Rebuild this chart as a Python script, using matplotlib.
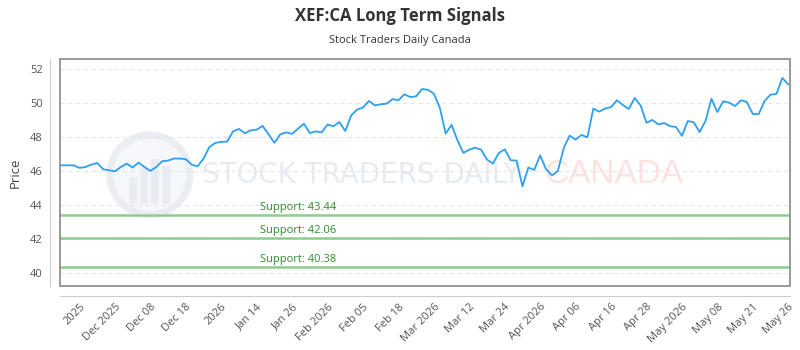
import matplotlib
matplotlib.use("Agg")
import matplotlib.pyplot as plt
from matplotlib.patches import Rectangle, Ellipse

# price series (trading days)
prices = [
    46.35, 46.35, 46.35, 46.20, 46.25, 46.39, 46.49, 46.12, 46.06, 46.00,
    46.25, 46.45, 46.22, 46.51, 46.25, 46.02, 46.25, 46.59, 46.63, 46.75,
    46.75, 46.71, 46.39, 46.29, 46.75, 47.43, 47.67, 47.73, 47.75, 48.35,
    48.49, 48.24, 48.41, 48.45, 48.67, 48.18, 47.67, 48.18, 48.29, 48.20,
    48.51, 48.80, 48.25, 48.35, 48.29, 48.75, 48.65, 48.90, 48.37, 49.29,
    49.63, 49.75, 50.14, 49.88, 49.94, 49.98, 50.25, 50.18, 50.53, 50.37,
    50.41, 50.84, 50.80, 50.57, 49.75, 48.22, 48.73, 47.82, 47.08, 47.27,
    47.39, 47.27, 46.69, 46.45, 47.08, 47.29, 46.65, 46.63, 45.12, 46.22,
    46.08, 46.94, 46.12, 45.76, 46.02, 47.39, 48.10, 47.86, 48.14, 48.00,
    49.69, 49.51, 49.69, 49.78, 50.18, 49.90, 49.67, 50.31, 49.88, 48.86,
    49.02, 48.76, 48.84, 48.65, 48.61, 48.08, 48.96, 48.88, 48.31, 48.96,
    50.27, 49.49, 50.12, 50.04, 49.84, 50.18, 50.08, 49.37, 49.37, 50.14,
    50.51, 50.55, 51.49, 51.12,
]

tick_idx = [3, 9, 15, 21, 27, 33, 39, 45, 51, 57, 63, 69, 75, 81, 87, 93,
            99, 105, 111, 117, 123]
tick_labels = ["2025", "Dec 2025", "Dec 08", "Dec 18", "2026", "Jan 14",
               "Jan 26", "Feb 2026", "Feb 05", "Feb 18", "Mar 2026", "Mar 12",
               "Mar 24", "Apr 2026", "Apr 06", "Apr 16", "Apr 28", "May 2026",
               "May 08", "May 21", "May 26"]

supports = [43.44, 42.06, 40.38]

plt.rcParams["font.family"] = ["Open Sans", "DejaVu Sans"]

fig = plt.figure(figsize=(8, 3.5), dpi=100)
ax = fig.add_axes([0.075, 0.183, 0.9125, 0.648])

# spines first: set_position resets the ticks
for side in ["top", "right"]:
    ax.spines[side].set_visible(False)
for side in ["left", "bottom"]:
    ax.spines[side].set_position(("outward", 7.2))
    ax.spines[side].set_color("#cccccc")

# faint watermark (logo ring + name)
ax.add_patch(Ellipse((0.123, 0.49), 80 / 730, 80 / 227, transform=ax.transAxes,
                     facecolor="#f5f7fa", edgecolor="#eaedf2", lw=5, zorder=0))
for bx, bh in [(0.095, 0.12), (0.11, 0.16), (0.125, 0.2), (0.14, 0.17)]:
    ax.add_patch(Rectangle((bx, 0.36), 0.01, bh, transform=ax.transAxes,
                           facecolor="#e9ecf2", edgecolor="none", zorder=0))
ax.text(0.195, 0.49, "STOCK TRADERS DAILY", transform=ax.transAxes,
        fontsize=20, color="#e7ebf1", va="center", ha="left",
        family="DejaVu Sans", zorder=0)
ax.text(0.664, 0.49, "CANADA", transform=ax.transAxes,
        fontsize=24, color="#fde2e2", va="center", ha="left",
        family="Liberation Sans", zorder=0)

for y in range(40, 53, 2):
    ax.axhline(y, color="#e6e6e6", lw=0.8, ls=(0, (4, 3)), zorder=1)

for s in supports:
    ax.axhline(s, color="#8fcc8f", lw=1.8, zorder=2)
    ax.text(0.274, s + 0.12, f"Support: {s:.2f}", transform=ax.get_yaxis_transform(),
            color="#2e8b2e", fontsize=8, ha="left", va="bottom", zorder=3)

ax.plot(range(len(prices)), prices, color="#2f9ff0", lw=1.3, zorder=4)

ax.set_xlim(-0.3, len(prices) - 0.7)
ax.set_ylim(39.25, 52.6)
ax.set_yticks(range(40, 53, 2))
ax.set_xticks(tick_idx)
ax.set_xticklabels(tick_labels)
ax.tick_params(axis="both", length=0, colors="#555555", labelsize=8)
ax.tick_params(axis="x", pad=4)
ax.tick_params(axis="y", pad=5)
plt.setp(ax.get_xticklabels(), rotation=45, ha="right", rotation_mode="anchor")

ax.add_patch(Rectangle((0, 0), 1, 1, transform=ax.transAxes, fill=False,
                       edgecolor="#888888", lw=1.2, clip_on=False, zorder=5))

ax.set_ylabel("Price", color="#444444", fontsize=9.5, labelpad=6)

fig.text(0.5, 0.955, "XEF:CA Long Term Signals", ha="center", va="center",
         fontsize=12, weight="bold", color="#333333")
fig.text(0.5, 0.885, "Stock Traders Daily Canada", ha="center", va="center",
         fontsize=8, color="#333333")

fig.savefig("out.png", dpi=100)
